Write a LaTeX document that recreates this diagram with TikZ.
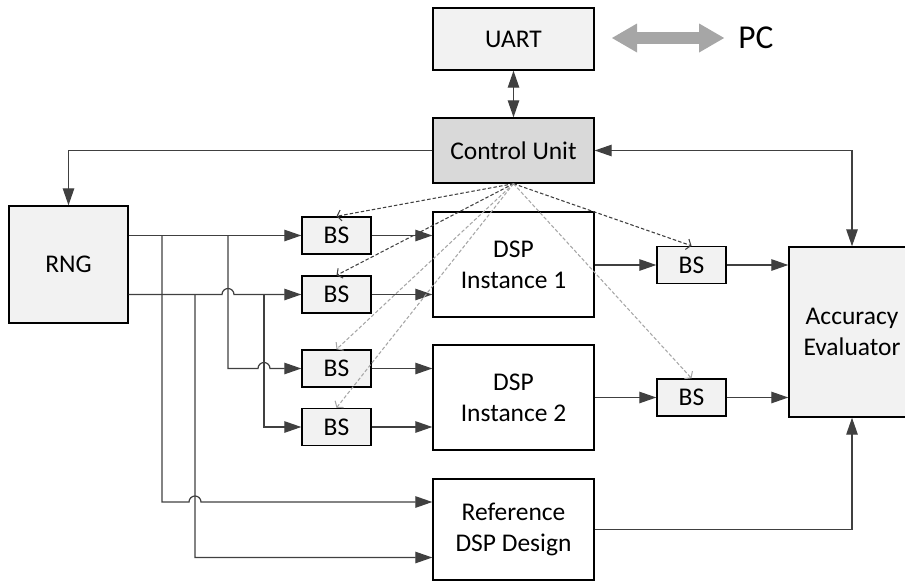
\documentclass[tikz,border=0pt]{standalone}
\usepackage{fontspec}
\setmainfont{Carlito}
\usepackage{tikz}
\usetikzlibrary{arrows.meta, calc}
\definecolor{lineagris}{RGB}{64,64,64}
\definecolor{grisclaro}{RGB}{242,242,242}
\definecolor{grisunidad}{RGB}{217,217,217}
\definecolor{grispunteado}{RGB}{166,166,166}
\tikzset{>={Triangle[length=0.34cm,width=0.23cm]},
	bloque/.style={draw=black, line width=0.8pt, align=center, inner sep=0pt, font=\fontsize{14.5}{17.5}\selectfont},
	bsbox/.style={bloque, fill=grisclaro, minimum width=1.38cm, minimum height=0.74cm},
	dspbox/.style={bloque, fill=white, minimum width=3.22cm, minimum height=2.10cm},
	enlace/.style={->, draw=lineagris, line width=0.7pt},
	control/.style={-{Straight Barb[length=0.08cm,width=0.22cm]}, line width=0.6pt, dash pattern=on 2pt off 1.2pt},
	pcflecha/.style={{Triangle[length=0.5cm,width=0.58cm,line width=0pt]}-{Triangle[length=0.5cm,width=0.58cm,line width=0pt]}, line width=0.24cm, draw=grispunteado}
}
\begin{document}
\begin{tikzpicture}
	\useasboundingbox (0,0) rectangle (18.1,11.62);

	% bloques
	\node[bloque, fill=grisclaro, minimum width=3.22cm, minimum height=1.24cm] (uart) at (10.27,10.84) {UART};
	\node[bloque, fill=grisunidad, minimum width=3.22cm, minimum height=1.30cm] (cu) at (10.27,8.61) {Control Unit};
	\node[bloque, fill=grisclaro, minimum width=2.38cm, minimum height=2.34cm] (rng) at (1.37,6.33) {RNG};
	\node[dspbox] (dsp1) at (10.27,6.33) {DSP\\Instance 1};
	\node[dspbox] (dsp2) at (10.27,3.67) {DSP\\Instance 2};
	\node[dspbox, minimum height=2.02cm] (ref) at (10.27,1.03) {Reference\\DSP Design};
	\node[bloque, fill=grisclaro, minimum width=2.52cm, minimum height=3.40cm] (ae) at (17.04,4.98) {Accuracy\\Evaluator};
	\node[bsbox] (bs1) at (6.73,6.91) {BS};
	\node[bsbox] (bs2) at (6.73,5.73) {BS};
	\node[bsbox] (bs3) at (6.73,4.25) {BS};
	\node[bsbox] (bs4) at (6.73,3.08) {BS};
	\node[bsbox] (bs5) at (13.83,6.32) {BS};
	\node[bsbox] (bs6) at (13.83,3.67) {BS};
	\node[font=\fontsize{19}{23}\selectfont, inner sep=0pt] (pc) at (15.12,10.86) {PC};
	\coordinate (pcpuerto) at (12.24,10.86);

	% enlaces
	\draw[pcflecha] (pcpuerto) -- ([xshift=-0.28cm]pc.west);
	\draw[enlace, <->] (uart) -- (cu);
	\draw[enlace] (cu.west) -| (rng.north);
	\draw[enlace, <->] (cu.east) -| (ae.north);
	\draw[enlace] (ref.east) -| (ae.south);

	\draw[enlace] (rng.east |- bs1.west) -- (bs1.west);
	\draw[enlace] (rng.east |- bs2.west) -- (4.44,5.73) arc[start angle=180, end angle=0, radius=0.12] -- (bs2.west);
	\draw[enlace] (3.24,6.91) -- (3.24,1.58) -- (3.78,1.58) arc[start angle=180, end angle=0, radius=0.12] -- ($(ref.west)+(0,0.55)$);
	\draw[enlace] (3.90,5.73) -- (3.90,0.47) -- ($(ref.west)+(0,-0.56)$);
	\draw[enlace] (4.56,6.91) -- (4.56,4.25) -- (5.16,4.25) arc[start angle=180, end angle=0, radius=0.12] -- (bs3.west);
	\draw[enlace] (5.28,5.73) -- (5.28,3.08) -- (bs4.west);

	\draw[enlace] (bs1.east) -- (bs1.east -| dsp1.west);
	\draw[enlace] (bs2.east) -- (bs2.east -| dsp1.west);
	\draw[enlace] (bs3.east) -- (bs3.east -| dsp2.west);
	\draw[enlace] (bs4.east) -- (bs4.east -| dsp2.west);
	\draw[enlace] (dsp1.east |- bs5.west) -- (bs5.west);
	\draw[enlace] (dsp2.east |- bs6.west) -- (bs6.west);
	\draw[enlace] (bs5.east) -- (bs5.east -| ae.west);
	\draw[enlace] (bs6.east) -- (bs6.east -| ae.west);

	% control
	\draw[control, lineagris] (cu.south) -- (bs1.north);
	\draw[control, lineagris] (cu.south) -- (bs2.north);
	\draw[control, grispunteado] (cu.south) -- (bs3.north);
	\draw[control, grispunteado] (cu.south) -- (bs4.north);
	\draw[control, lineagris] (cu.south) -- (bs5.north);
	\draw[control, grispunteado] (cu.south) -- (bs6.north);
\end{tikzpicture}
\end{document}
